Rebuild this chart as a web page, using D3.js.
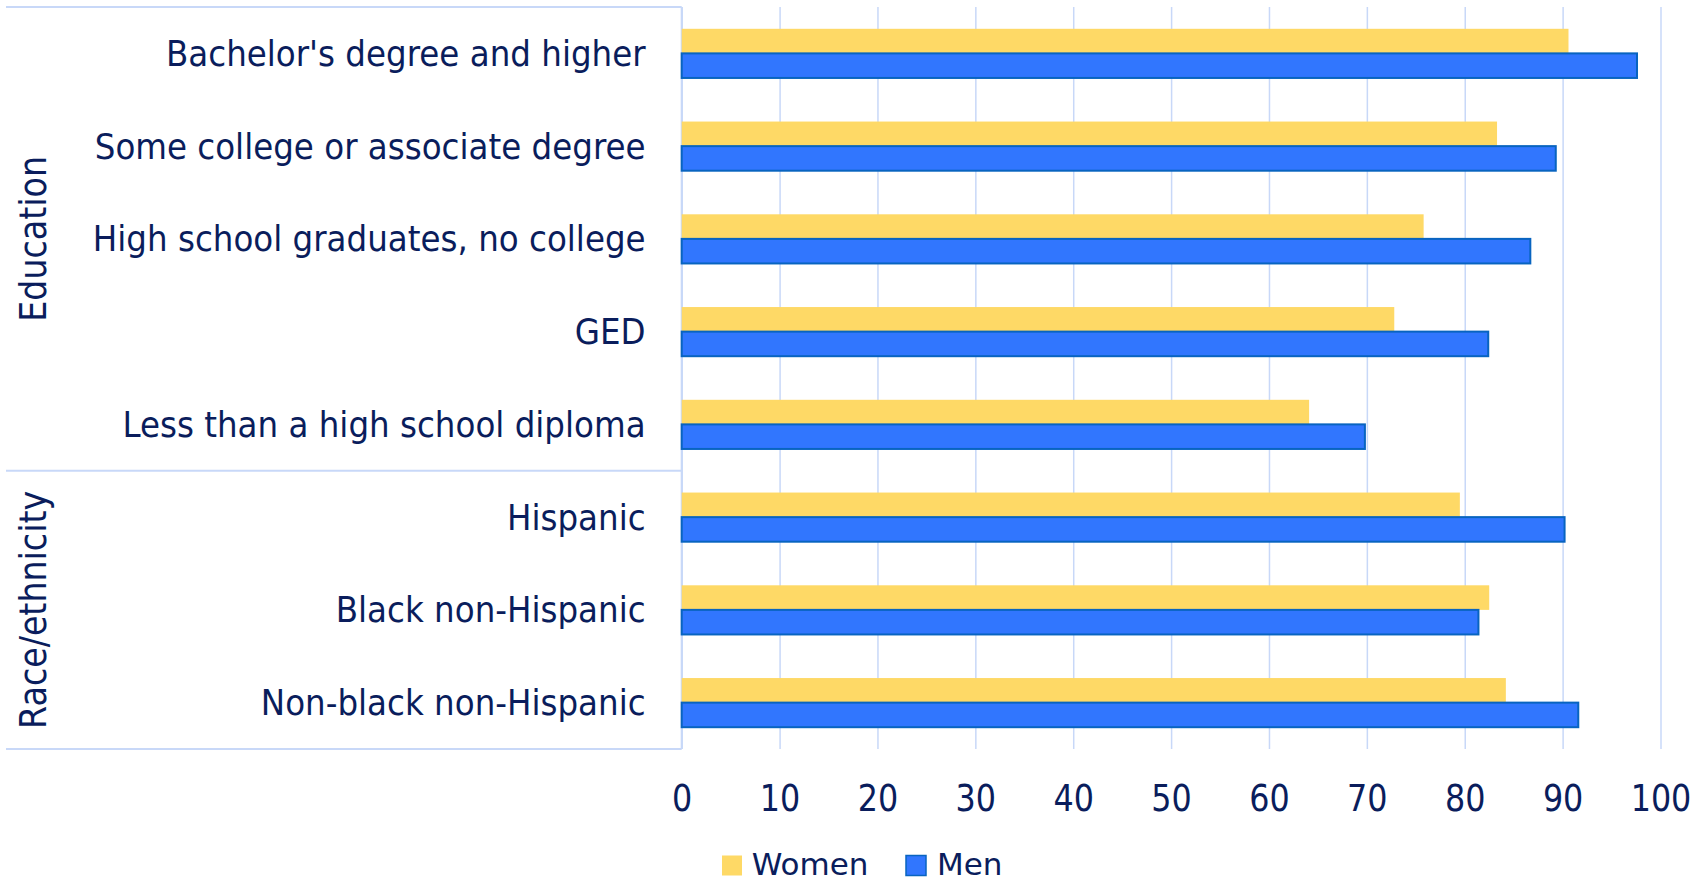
<!DOCTYPE html>
<html>
<head>
<meta charset="utf-8">
<script src="https://cdn.jsdelivr.net/npm/d3@7"></script>
<style>
  html, body { margin: 0; padding: 0; background: #ffffff; }
  svg { display: block; }
  text { font-family: "DejaVu Sans", Verdana, sans-serif; fill: #0a1d5c; }
</style>
</head>
<body>
<svg id="chart" width="1707" height="882"></svg>
<script>
// Share of each group (percent), by sex
const categories = [
  "Bachelor's degree and higher",
  "Some college or associate degree",
  "High school graduates, no college",
  "GED",
  "Less than a high school diploma",
  "Hispanic",
  "Black non-Hispanic",
  "Non-black non-Hispanic"
];
const women = [90.6, 83.3, 75.8, 72.8, 64.1, 79.5, 82.5, 84.2];
const men   = [97.6, 89.3, 86.7, 82.4, 69.8, 90.2, 81.4, 91.6];
const seriesNames = ["Women", "Men"];
const groups = [
  { name: "Education",      first: "Bachelor's degree and higher", last: "Less than a high school diploma" },
  { name: "Race/ethnicity", first: "Hispanic",                     last: "Non-black non-Hispanic" }
];
const xTicks = [0, 10, 20, 30, 40, 50, 60, 70, 80, 90, 100];

const colors = { Women: "#fed966", Men: "#3176fe" };
const menStroke = "#0864c0";
const lineColor = "#c8d8f8";

const svg = d3.select("#chart");

const plot = { left: 681.7, right: 1660.5, top: 7, bottom: 749 };
const tableLeft = 6;

const x = d3.scaleLinear().domain([0, 100]).range([plot.left, plot.right]);
const y = d3.scaleBand().domain(categories).range([plot.top, plot.bottom])
  .paddingInner(0.47).paddingOuter(0.235);
const ySeries = d3.scaleBand().domain(seriesNames).range([0, y.bandwidth()]);

// vertical gridlines
const grid = svg.append("g")
  .attr("transform", `translate(0,${plot.bottom})`)
  .call(d3.axisBottom(x).tickValues(xTicks).tickSize(-(plot.bottom - plot.top)).tickFormat(""));
grid.select(".domain").remove();
grid.selectAll(".tick line").attr("stroke", lineColor).attr("stroke-width", 1.5);

// table frame on the left: top, group separator and bottom rules, plus the category axis line
const ruleYs = [plot.top, plot.bottom];
groups.forEach((g, i) => { if (i > 0) ruleYs.push(y(g.first) - y.step() * y.paddingInner() / 2); });
svg.append("g").selectAll("line").data(ruleYs).join("line")
  .attr("x1", tableLeft).attr("x2", plot.left)
  .attr("y1", d => d).attr("y2", d => d)
  .attr("stroke", lineColor).attr("stroke-width", 2.2);
svg.append("line")
  .attr("x1", plot.left).attr("x2", plot.left)
  .attr("y1", plot.top).attr("y2", plot.bottom)
  .attr("stroke", lineColor).attr("stroke-width", 2);

// bars
const rows = categories.map((c, i) => ({ category: c, Women: women[i], Men: men[i] }));
const barG = svg.append("g");
rows.forEach(r => {
  barG.append("rect")
    .attr("x", x(0))
    .attr("y", y(r.category) + ySeries("Women"))
    .attr("width", x(r.Women) - x(0))
    .attr("height", ySeries.bandwidth())
    .attr("fill", colors.Women);
  barG.append("rect")
    .attr("x", x(0))
    .attr("y", y(r.category) + ySeries("Men"))
    .attr("width", x(r.Men) - x(0))
    .attr("height", ySeries.bandwidth())
    .attr("fill", colors.Men)
    .attr("stroke", menStroke)
    .attr("stroke-width", 2);
});

// category labels
svg.append("g").selectAll("text").data(categories).join("text")
  .attr("transform", d => `translate(645.6,${y(d) + y.bandwidth() / 2 + 12.5}) scale(0.93,1)`)
  .attr("text-anchor", "end")
  .attr("font-size", 35)
  .text(d => d);

// group labels, rotated
svg.append("g").selectAll("text").data(groups).join("text")
  .attr("transform", g => {
    const top = y(g.first) - y.step() * y.paddingInner() / 2;
    const bottom = y(g.last) + y.bandwidth() + y.step() * y.paddingInner() / 2;
    return `translate(46,${(top + bottom) / 2}) rotate(-90) scale(0.9,1)`;
  })
  .attr("text-anchor", "middle")
  .attr("font-size", 37)
  .text(g => g.name);

// value axis labels
const xAxis = svg.append("g")
  .attr("transform", `translate(0,${plot.bottom})`)
  .call(d3.axisBottom(x).tickValues(xTicks).tickSize(0).tickPadding(0));
xAxis.select(".domain").remove();
xAxis.selectAll(".tick text")
  .attr("y", 62).attr("dy", 0)
  .attr("font-size", 37)
  .attr("transform", "scale(0.86,1)")
  .style("font-family", "DejaVu Sans, Verdana, sans-serif")
  .style("fill", "#0a1d5c");

// legend
const legend = svg.append("g");
const legendItems = [
  { name: "Women", sx: 722, tx: 751.7 },
  { name: "Men",   sx: 906, tx: 937 }
];
legendItems.forEach(it => {
  legend.append("rect")
    .attr("x", it.sx).attr("y", 855.5)
    .attr("width", 20).attr("height", 20)
    .attr("fill", colors[it.name])
    .attr("stroke", it.name === "Men" ? menStroke : "none")
    .attr("stroke-width", 1.5);
  legend.append("text")
    .attr("x", it.tx).attr("y", 874.5)
    .attr("font-size", 31)
    .text(it.name);
});
</script>
</body>
</html>
